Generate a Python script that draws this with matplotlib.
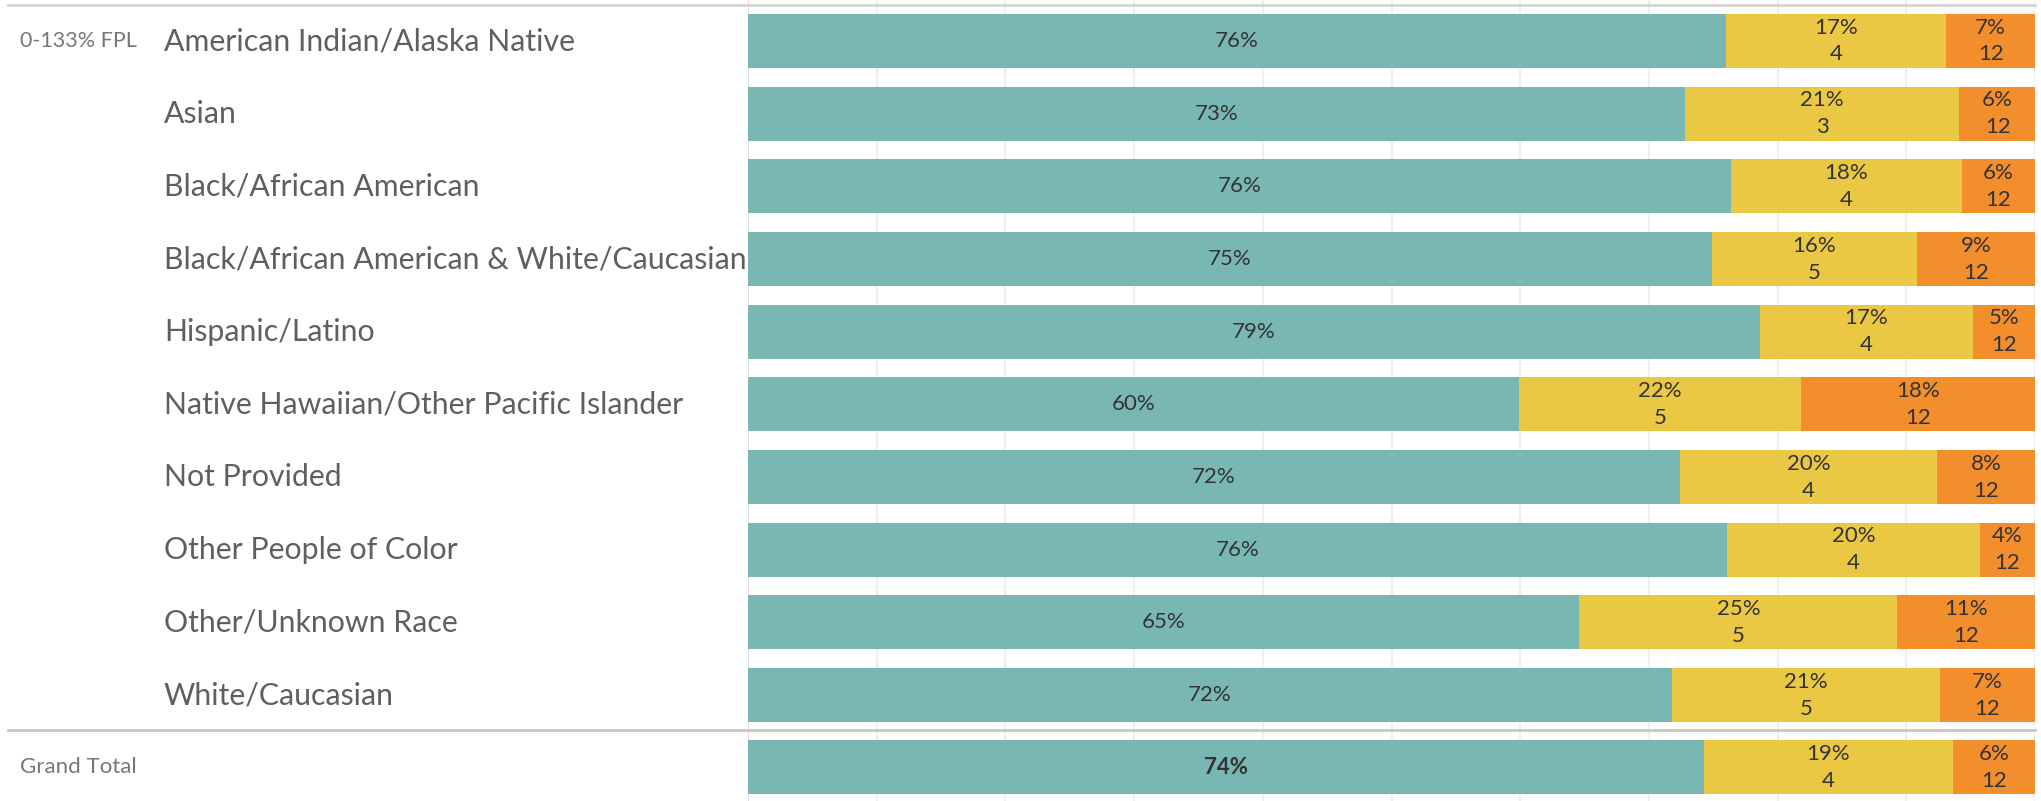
import matplotlib.pyplot as plt
import matplotlib.transforms as mtransforms

plt.rcParams['font.family'] = ['Lato', 'DejaVu Sans']

# data (0-133% FPL rows, then Grand Total)
groups = ["American Indian/Alaska Native", "Asian", "Black/African American",
          "Black/African American & White/Caucasian", "Hispanic/Latino",
          "Native Hawaiian/Other Pacific Islander", "Not Provided",
          "Other People of Color", "Other/Unknown Race", "White/Caucasian"]
teal_pct = [76.0, 72.8, 76.4, 74.9, 78.6, 59.9, 72.4, 76.1, 64.6, 71.8]
yellow_pct = [17.1, 21.3, 17.9, 15.9, 16.6, 21.9, 20.0, 19.6, 24.7, 20.8]
orange_pct = [6.9, 6.0, 5.7, 9.2, 4.8, 18.2, 7.6, 4.3, 10.7, 7.4]
yellow_n = [4, 3, 4, 5, 4, 5, 4, 4, 5, 5]
orange_n = [12, 12, 12, 12, 12, 12, 12, 12, 12, 12]

gt_teal, gt_yellow, gt_orange = 74.3, 19.3, 6.4
gt_yellow_n, gt_orange_n = 4, 12

TEAL = "#79b7b2"
YELLOW = "#ebc844"
ORANGE = "#f28e2c"
TXT = "#333333"
LBL = "#5f5f5f"

W, H = 2041, 801
fig = plt.figure(figsize=(W / 100, H / 100), dpi=100)
ax = fig.add_axes([748 / W, 0, (2035 - 748) / W, 1])

pitch = 72.67
y0 = 41.0
ypos = list(range(len(groups)))
gt_y = ypos[-1] + 72 / pitch
ax.set_xlim(0, 100)
ax.set_ylim((H - y0) / pitch, -y0 / pitch)
ax.axis("off")

# gridlines
for g in range(10, 101, 10):
    ax.axvline(g, color="#efefef", lw=1.5, zorder=0)
ax.axvline(0, color="#dedede", lw=1.2, zorder=0)

h = 54 / pitch
dy = 13.5 / pitch


def draw_row(y, t, yv, o, yn, on, bold=False):
    ax.barh(y, t, height=h, color=TEAL, zorder=2)
    ax.barh(y, yv, left=t, height=h, color=YELLOW, zorder=2)
    ax.barh(y, o, left=t + yv, height=h, color=ORANGE, zorder=2)
    ax.text(t / 2, y, f"{t:.0f}%", ha="center", va="center", fontsize=16,
            color=TXT, fontweight="bold" if bold else "normal", zorder=3)
    for left, w, n in [(t, yv, yn), (t + yv, o, on)]:
        ax.text(left + w / 2, y - dy, f"{w:.0f}%", ha="center", va="center",
                fontsize=16, color=TXT, zorder=3)
        ax.text(left + w / 2, y + dy, f"{n}", ha="center", va="center",
                fontsize=16, color=TXT, zorder=3)


for i, y in enumerate(ypos):
    draw_row(y, teal_pct[i], yellow_pct[i], orange_pct[i], yellow_n[i], orange_n[i])
draw_row(gt_y, gt_teal, gt_yellow, gt_orange, gt_yellow_n, gt_orange_n, bold=True)

# row labels on the left, y in data units
tr = mtransforms.blended_transform_factory(fig.transFigure, ax.transData)
for i, y in enumerate(ypos):
    ax.text(164 / W, y, groups[i], transform=tr, ha="left", va="center",
            fontsize=21.8, color=LBL, clip_on=False)
ax.text(20 / W, ypos[0], "0-133% FPL", transform=tr, ha="left", va="center",
        fontsize=15.5, color="#777777", clip_on=False)
ax.text(20 / W, gt_y, "Grand Total", transform=tr, ha="left", va="center",
        fontsize=16, color="#777777", clip_on=False)

# horizontal rules across the whole table
for py, col in [(5, "#d4d4d4"), (730, "#c8c8c8")]:
    fig.add_artist(plt.Line2D([8 / W, 2035 / W], [1 - py / H, 1 - py / H],
                              color=col, lw=2, transform=fig.transFigure))

fig.savefig("out.png", dpi=100)
